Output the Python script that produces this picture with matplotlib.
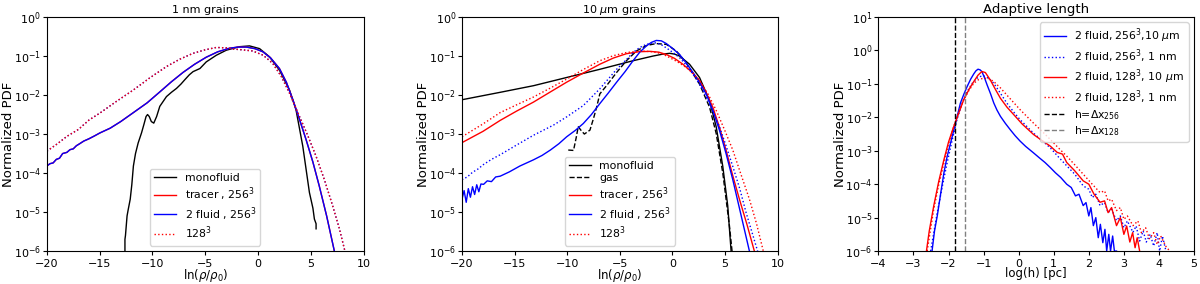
import numpy as np
import matplotlib
matplotlib.use("Agg")
import matplotlib.pyplot as plt
from matplotlib.ticker import NullLocator, MultipleLocator, FixedLocator

# ---------------- Panel 1 : 1 nm grains (x = ln(rho/rho0), y = log10 PDF) -------------
p1_mono_x = [-12.6, -12.6, -12.55, -12.4, -12.3, -12.1, -11.95, -11.8, -11.6, -11.35, -11.03, -10.8, -10.6, -10.46, -10.3,
             -10.1, -9.87, -9.6, -9.3, -8.67, -8.2, -7.72, -7.3, -6.94, -6.5, -6.15, -5.5, -4.9, -3.95, -3.0,
             -1.74, -0.8, 0.15, 1.09, 2.03, 2.98, 3.6, 4.24, 4.87, 5.2, 5.34, 5.5, 5.5]
p1_mono_y = [-6.0, -5.7, -5.6, -5.1, -4.95, -4.67, -4.3, -3.82, -3.5, -3.23, -2.97, -2.75, -2.55, -2.50, -2.55,
             -2.68, -2.72, -2.55, -2.29, -2.04, -1.93, -1.83, -1.72, -1.61, -1.48, -1.40, -1.32, -1.15, -0.98, -0.85,
             -0.76, -0.74, -0.81, -1.02, -1.36, -1.87, -2.38, -3.31, -4.5, -4.9, -5.18, -5.3, -5.43]

p1_solid_x = [-20.0, -19.7, -19.4, -19.1, -18.8, -18.5, -18.1, -17.8, -17.5, -17.2, -16.9, -16.5, -16.0, -15.5, -14.96,
              -14.0, -13.0, -11.8, -10.5, -9.3, -8.2, -7.1, -6.0, -4.9, -3.8, -2.7, -1.9, -1.1, -0.3, 0.46,
              1.2, 2.03, 2.7, 3.3, 3.9, 4.55, 5.2, 5.8, 6.5, 7.23]
p1_solid_y = [-3.82, -3.76, -3.74, -3.65, -3.62, -3.50, -3.47, -3.40, -3.38, -3.30, -3.25, -3.18, -3.12, -3.05, -2.97,
              -2.85, -2.68, -2.45, -2.20, -1.92, -1.66, -1.42, -1.21, -1.03, -0.89, -0.80, -0.77, -0.77, -0.81, -0.89,
              -1.05, -1.32, -1.68, -2.12, -2.60, -3.14, -3.72, -4.33, -5.10, -6.0]

p1_dot_x = [-20.0, -19.0, -18.1, -17.0, -16.0, -14.96, -13.5, -11.8, -10.3, -8.67, -7.4, -6.15, -5.0, -3.95, -3.0, -2.38,
            -1.5, -0.5, 0.5, 1.4, 2.2, 2.98, 3.93, 4.7, 5.5, 6.3, 7.07, 7.7, 8.23]
p1_dot_y = [-3.44, -3.25, -3.06, -2.88, -2.64, -2.46, -2.18, -1.87, -1.57, -1.27, -1.08, -0.93, -0.84, -0.78, -0.79, -0.82,
            -0.84, -0.87, -0.98, -1.19, -1.52, -1.95, -2.55, -3.03, -3.57, -4.18, -4.84, -5.42, -6.0]

# ---------------- Panel 2 : 10 micron grains -------------
p2_mono_x = [-20.0, -16.37, -13.2, -10.05, -6.9, -3.74, -1.84, -0.9, -0.26, 0.2, 0.68, 1.63, 2.58, 3.53, 4.16, 4.79, 5.26, 5.58]
p2_mono_y = [-2.12, -1.93, -1.76, -1.55, -1.34, -1.12, -1.00, -0.95, -0.93, -0.95, -1.00, -1.21, -1.55, -2.14, -2.81, -3.83, -4.84, -6.0]

p2_gas_x = [-9.9, -9.4, -9.15, -8.95, -8.7, -8.37, -7.84, -7.5, -7.2, -6.9, -6.26, -5.3, -4.37, -3.42, -2.47, -1.53,
            -0.58, 0.37, 1.3, 2.58, 3.53, 4.16, 4.79, 5.42, 5.67]
p2_gas_y = [-3.41, -3.42, -3.1, -2.81, -2.9, -3.0, -2.9, -2.6, -2.31, -1.97, -1.76, -1.42, -1.12, -0.87, -0.73, -0.68,
            -0.70, -0.87, -1.17, -1.72, -2.31, -2.98, -4.0, -5.35, -6.0]

p2_tr_x = [-20.0, -18.0, -16.37, -14.8, -13.2, -11.6, -10.05, -8.5, -6.9, -5.6, -4.37, -3.2, -2.16, -1.3, -0.58, 0.2,
           1.0, 1.8, 2.58, 3.2, 3.84, 4.5, 5.1, 5.7, 6.37, 7.1, 7.79]
p2_tr_y = [-3.22, -2.93, -2.65, -2.41, -2.18, -1.92, -1.67, -1.44, -1.21, -1.05, -0.94, -0.89, -0.88, -0.90, -0.96, -1.06,
           -1.21, -1.40, -1.63, -1.94, -2.31, -2.85, -3.41, -4.03, -4.67, -5.33, -6.0]

p2_tr128_x = [-20.0, -18.0, -16.37, -14.8, -13.2, -11.6, -10.05, -8.5, -6.9, -5.6, -4.37, -3.0, -1.84, -1.0, -0.26, 0.5,
              1.3, 2.0, 2.58, 3.4, 4.16, 5.0, 5.74, 6.5, 7.32, 8.0, 8.64]
p2_tr128_y = [-3.07, -2.74, -2.45, -2.25, -2.05, -1.82, -1.59, -1.35, -1.12, -0.99, -0.91, -0.87, -0.89, -0.94, -1.04, -1.15,
              -1.29, -1.45, -1.63, -1.98, -2.39, -2.92, -3.41, -4.02, -4.67, -5.30, -6.0]

p2_2f_x = [-20.0, -19.8, -19.6, -19.4, -19.2, -19.0, -18.8, -18.6, -18.4, -18.2, -17.95, -17.6, -17.2, -16.8, -16.37,
           -15.5, -14.5, -13.2, -12.4, -11.6, -10.8, -10.05, -9.2, -8.47, -7.7, -6.9, -6.1, -5.3, -4.5, -3.74,
           -3.1, -2.47, -2.0, -1.53, -1.05, -0.58, 0.0, 0.68, 1.3, 1.95, 2.6, 3.21, 3.85, 4.47, 5.1, 5.74, 6.5, 7.32]
p2_2f_y = [-4.67, -4.45, -4.75, -4.40, -4.62, -4.35, -4.55, -4.30, -4.48, -4.28, -4.29, -4.20, -4.22, -4.10, -4.08,
           -3.97, -3.82, -3.66, -3.55, -3.41, -3.25, -3.07, -2.90, -2.73, -2.50, -2.22, -1.95, -1.67, -1.40, -1.12,
           -0.90, -0.74, -0.65, -0.60, -0.61, -0.68, -0.80, -0.96, -1.17, -1.42, -1.68, -1.97, -2.40, -2.90, -3.50, -4.17, -5.05, -6.0]

p2_2f128_x = [-20.0, -19.5, -19.0, -18.5, -17.95, -17.2, -16.37, -14.8, -13.2, -11.3, -10.05, -8.47, -6.9, -5.3, -4.4,
              -3.74, -3.1, -2.47, -2.0, -1.53, -1.05, -0.58, 0.0, 0.68, 1.3, 1.95, 2.6, 3.21, 3.85, 4.47, 5.1, 5.74,
              6.4, 7.0, 7.6, 8.1]
p2_2f128_y = [-4.17, -4.10, -3.98, -3.90, -3.78, -3.65, -3.53, -3.28, -3.03, -2.77, -2.56, -2.27, -1.84, -1.34, -1.10,
              -0.91, -0.78, -0.70, -0.67, -0.66, -0.71, -0.79, -0.90, -1.04, -1.23, -1.46, -1.73, -2.05, -2.42, -2.81, -3.30, -3.83,
              -4.40, -5.01, -5.55, -6.0]

# ---------------- Panel 3 : adaptive length (x = log(h) [pc]) -------------
p3_b10_x = [-2.47, -2.40, -2.32, -2.22, -2.13, -2.04, -1.94, -1.80, -1.66, -1.56, -1.47, -1.37, -1.28, -1.22, -1.16, -1.10,
            -1.05, -0.98, -0.90, -0.80, -0.71, -0.62, -0.52, -0.38, -0.24, -0.10, 0.04, 0.2, 0.42, 0.6, 0.75, 0.9,
            1.05, 1.2, 1.37, 1.5, 1.62, 1.72, 1.84, 1.92, 2.0, 2.06, 2.13, 2.2, 2.27, 2.33, 2.4, 2.46, 2.51, 2.57,
            2.62, 2.68, 2.73, 2.79]
p3_b10_y = [-6.0, -5.4, -4.94, -4.25, -3.65, -3.17, -2.76, -2.17, -1.57, -1.30, -1.08, -0.86, -0.70, -0.61, -0.56, -0.58,
            -0.63, -0.80, -1.03, -1.30, -1.57, -1.78, -1.97, -2.18, -2.37, -2.55, -2.71, -2.87, -3.06, -3.22, -3.35, -3.50,
            -3.66, -3.80, -4.00, -4.10, -4.35, -4.30, -4.64, -4.55, -4.95, -4.70, -5.24, -5.00, -5.60, -5.20, -5.75, -5.35,
            -6.0, -5.50, -6.0, -5.55, -6.0, -6.0]

p3_r10_x = [-2.63, -2.55, -2.42, -2.28, -2.13, -2.0, -1.85, -1.70, -1.57, -1.42, -1.28, -1.16, -1.05, -0.95, -0.81, -0.66,
            -0.52, -0.33, -0.14, 0.1, 0.42, 0.66, 0.9, 1.1, 1.25, 1.37, 1.6, 1.84, 2.0, 2.15, 2.32, 2.45, 2.55, 2.65,
            2.79, 2.9, 3.0, 3.08, 3.17, 3.25, 3.32, 3.38, 3.45]
p3_r10_y = [-6.0, -5.4, -4.64, -3.92, -3.26, -2.74, -2.27, -1.85, -1.48, -1.17, -0.93, -0.74, -0.63, -0.66, -0.88, -1.17,
            -1.43, -1.70, -1.92, -2.20, -2.51, -2.69, -2.86, -3.05, -3.10, -3.35, -3.60, -3.90, -4.00, -4.30, -4.54, -4.50,
            -4.85, -4.70, -5.24, -5.00, -5.50, -5.25, -5.73, -5.45, -5.90, -5.60, -6.0]

p3_b1_x = [-2.51, -2.42, -2.32, -2.18, -2.04, -1.90, -1.76, -1.62, -1.47, -1.33, -1.19, -1.10, -1.0, -0.86, -0.71, -0.52,
           -0.34, -0.15, 0.04, 0.23, 0.42, 0.66, 0.9, 1.13, 1.37, 1.6, 1.84, 2.0, 2.1, 2.2, 2.32, 2.45, 2.55, 2.65,
           2.79, 2.9, 3.0, 3.1, 3.26, 3.35, 3.45, 3.55, 3.64, 3.75, 3.85, 3.95, 4.02, 4.1, 4.2]
p3_b1_y = [-6.0, -5.45, -4.84, -4.08, -3.36, -2.70, -2.07, -1.60, -1.23, -0.99, -0.83, -0.78, -0.76, -0.83, -0.98, -1.28,
           -1.57, -1.83, -2.07, -2.27, -2.47, -2.69, -2.91, -3.18, -3.45, -3.70, -4.05, -4.15, -4.40, -4.30, -4.64, -4.55,
           -4.85, -4.75, -5.09, -4.95, -5.30, -5.10, -5.44, -5.25, -5.70, -5.40, -5.73, -5.50, -5.85, -5.45, -6.0, -5.55, -6.0]

p3_r1_x = [-2.61, -2.52, -2.42, -2.28, -2.13, -2.0, -1.85, -1.71, -1.57, -1.42, -1.28, -1.14, -1.0, -0.85, -0.71, -0.52,
           -0.34, -0.15, 0.04, 0.23, 0.42, 0.66, 0.9, 1.13, 1.37, 1.6, 1.84, 2.08, 2.32, 2.45, 2.55, 2.65, 2.79, 2.9,
           3.0, 3.1, 3.26, 3.4, 3.5, 3.62, 3.73, 3.85, 3.95, 4.05, 4.21, 4.31]
p3_r1_y = [-6.0, -5.40, -4.74, -4.02, -3.36, -2.80, -2.27, -1.85, -1.48, -1.20, -0.98, -0.87, -0.83, -0.84, -0.93, -1.12,
           -1.33, -1.55, -1.77, -1.97, -2.17, -2.41, -2.66, -2.91, -3.16, -3.42, -3.70, -3.98, -4.25, -4.20, -4.50, -4.45,
           -4.79, -4.70, -5.05, -4.95, -5.24, -5.10, -5.45, -5.30, -5.63, -5.45, -5.80, -5.55, -5.88, -6.0]

vline_256 = -1.82
vline_128 = -1.52

ytick_exp_12 = [-6, -5, -4, -3, -2, -1, 0]
ytick_exp_3 = [-6, -5, -4, -3, -2, -1, 0, 1]

plt.rcParams['font.size'] = 8

fig = plt.figure(figsize=(12, 2.84), dpi=100)
ax1 = fig.add_axes([0.039, 0.116, 0.264, 0.824])
ax2 = fig.add_axes([0.385, 0.116, 0.263, 0.824])
ax3 = fig.add_axes([0.732, 0.116, 0.263, 0.824])


def p(v):
    return 10.0 ** np.asarray(v, dtype=float)


lw = 1.0
leg_kw = dict(fontsize=7.8, labelspacing=0.2, borderpad=0.4, handletextpad=0.8)
# Panel 1
ax1.plot(p1_mono_x, p(p1_mono_y), color='black', lw=lw, label='monofluid')
ax1.plot(p1_solid_x, p(p1_solid_y), color='red', lw=lw, label='tracer , 256$^3$')
ax1.plot(p1_solid_x, p(p1_solid_y), color='blue', lw=lw, label='2 fluid , 256$^3$')
ax1.plot(p1_dot_x, p(p1_dot_y), color='blue', lw=lw, ls=':')
ax1.plot(p1_dot_x, p(p1_dot_y), color='red', lw=lw, ls=':', label='128$^3$')
ax1.set_title('1 nm grains', fontsize=8, pad=3)
ax1.set_xlim(-20, 10)
ax1.legend(loc='lower center', **leg_kw)

# Panel 2
ax2.plot(p2_mono_x, p(p2_mono_y), color='black', lw=lw, label='monofluid')
ax2.plot(p2_gas_x, p(p2_gas_y), color='black', lw=lw, ls='--', label='gas')
ax2.plot(p2_tr_x, p(p2_tr_y), color='red', lw=lw, label='tracer , 256$^3$')
ax2.plot(p2_2f_x, p(p2_2f_y), color='blue', lw=lw, label='2 fluid , 256$^3$')
ax2.plot(p2_2f128_x, p(p2_2f128_y), color='blue', lw=lw, ls=':')
ax2.plot(p2_tr128_x, p(p2_tr128_y), color='red', lw=lw, ls=':', label='128$^3$')
ax2.set_title('10 $\\mu$m grains', fontsize=8, pad=3)
ax2.set_xlim(-20, 10)
ax2.legend(loc='lower center', **leg_kw)

for ax in (ax1, ax2):
    ax.set_yscale('log')
    ax.set_ylim(1e-6, 1)
    ax.yaxis.set_major_locator(FixedLocator(p(ytick_exp_12)))
    ax.set_xlabel('ln($\\rho/\\rho_0$)', fontsize=8.5, labelpad=-1.5)
    ax.xaxis.set_major_locator(MultipleLocator(5))

# Panel 3
ax3.plot(p3_b10_x, p(p3_b10_y), color='blue', lw=lw, label='2 fluid, 256$^3$,10 $\\mu$m')
ax3.plot(p3_b1_x, p(p3_b1_y), color='blue', lw=lw, ls=':', label='2 fluid, 256$^3$, 1 nm')
ax3.plot(p3_r10_x, p(p3_r10_y), color='red', lw=lw, label='2 fluid, 128$^3$, 10 $\\mu$m')
ax3.plot(p3_r1_x, p(p3_r1_y), color='red', lw=lw, ls=':', label='2 fluid, 128$^3$, 1 nm')
ax3.axvline(vline_256, color='black', lw=lw, ls='--', label='h=$\\Delta$x$_{256}$')
ax3.axvline(vline_128, color='gray', lw=lw, ls='--', label='h=$\\Delta$x$_{128}$')
ax3.set_yscale('log')
ax3.set_ylim(1e-6, 10)
ax3.yaxis.set_major_locator(FixedLocator(p(ytick_exp_3)))
ax3.set_xlim(-4, 5)
ax3.xaxis.set_major_locator(MultipleLocator(1))
ax3.set_title('Adaptive length', fontsize=9.5, pad=3)
ax3.set_xlabel('log(h) [pc]', fontsize=8.5, labelpad=-1.5)
ax3.legend(loc='upper right', **leg_kw)

for ax in (ax1, ax2, ax3):
    ax.set_ylabel('Normalized PDF', fontsize=9.5)
    ax.yaxis.set_label_coords(-0.1, 0.5)
    ax.yaxis.set_minor_locator(NullLocator())
    ax.tick_params(axis='y', labelsize=8, length=3, pad=1.2)
    ax.tick_params(axis='x', labelsize=8, length=3, pad=2.5)

fig.savefig('out.png', dpi=100)
